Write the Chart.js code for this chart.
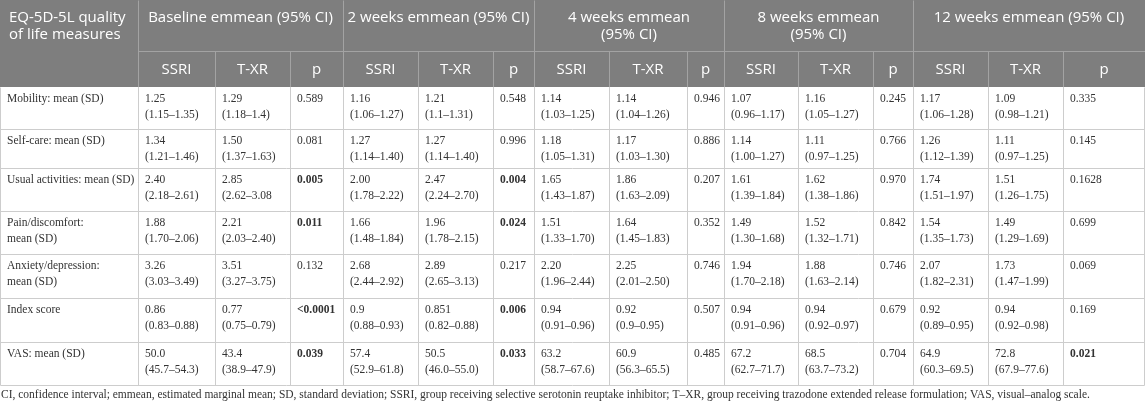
<!DOCTYPE html>
<html>
<head>
<meta charset="utf-8">
<script src="https://cdn.jsdelivr.net/npm/chart.js@4.4.1/dist/chart.umd.min.js"></script>
<style>
  html, body { margin: 0; padding: 0; background: #fff; }
  #wrap { width: 1145px; height: 402px; }
</style>
</head>
<body>
<div id="wrap"><canvas id="tabla"></canvas></div>
<script>
// datos de la tabla
const measures = [
  'Mobility: mean (SD)',
  'Self-care: mean (SD)',
  'Usual activities: mean (SD)',
  'Pain/discomfort:\nmean (SD)',
  'Anxiety/depression:\nmean (SD)',
  'Index score',
  'VAS: mean (SD)'
];
const firstHeader = 'EQ-5D-5L quality\nof life measures';
const timepoints = [
  'Baseline emmean (95% CI)',
  '2 weeks emmean (95% CI)',
  '4 weeks emmean\n(95% CI)',
  '8 weeks emmean\n(95% CI)',
  '12 weeks emmean (95% CI)'
];
const groups = ['SSRI', 'T-XR', 'p'];

const baselineSsri = ['1.25\n(1.15–1.35)', '1.34\n(1.21–1.46)', '2.40\n(2.18–2.61)', '1.88\n(1.70–2.06)', '3.26\n(3.03–3.49)', '0.86\n(0.83–0.88)', '50.0\n(45.7–54.3)'];
const baselineTxr  = ['1.29\n(1.18–1.4)', '1.50\n(1.37–1.63)', '2.85\n(2.62–3.08', '2.21\n(2.03–2.40)', '3.51\n(3.27–3.75)', '0.77\n(0.75–0.79)', '43.4\n(38.9–47.9)'];
const baselineP    = ['0.589', '0.081', '0.005', '0.011', '0.132', '<0.0001', '0.039'];

const week2Ssri = ['1.16\n(1.06–1.27)', '1.27\n(1.14–1.40)', '2.00\n(1.78–2.22)', '1.66\n(1.48–1.84)', '2.68\n(2.44–2.92)', '0.9\n(0.88–0.93)', '57.4\n(52.9–61.8)'];
const week2Txr  = ['1.21\n(1.1–1.31)', '1.27\n(1.14–1.40)', '2.47\n(2.24–2.70)', '1.96\n(1.78–2.15)', '2.89\n(2.65–3.13)', '0.851\n(0.82–0.88)', '50.5\n(46.0–55.0)'];
const week2P    = ['0.548', '0.996', '0.004', '0.024', '0.217', '0.006', '0.033'];

const week4Ssri = ['1.14\n(1.03–1.25)', '1.18\n(1.05–1.31)', '1.65\n(1.43–1.87)', '1.51\n(1.33–1.70)', '2.20\n(1.96–2.44)', '0.94\n(0.91–0.96)', '63.2\n(58.7–67.6)'];
const week4Txr  = ['1.14\n(1.04–1.26)', '1.17\n(1.03–1.30)', '1.86\n(1.63–2.09)', '1.64\n(1.45–1.83)', '2.25\n(2.01–2.50)', '0.92\n(0.9–0.95)', '60.9\n(56.3–65.5)'];
const week4P    = ['0.946', '0.886', '0.207', '0.352', '0.746', '0.507', '0.485'];

const week8Ssri = ['1.07\n(0.96–1.17)', '1.14\n(1.00–1.27)', '1.61\n(1.39–1.84)', '1.49\n(1.30–1.68)', '1.94\n(1.70–2.18)', '0.94\n(0.91–0.96)', '67.2\n(62.7–71.7)'];
const week8Txr  = ['1.16\n(1.05–1.27)', '1.11\n(0.97–1.25)', '1.62\n(1.38–1.86)', '1.52\n(1.32–1.71)', '1.88\n(1.63–2.14)', '0.94\n(0.92–0.97)', '68.5\n(63.7–73.2)'];
const week8P    = ['0.245', '0.766', '0.970', '0.842', '0.746', '0.679', '0.704'];

const week12Ssri = ['1.17\n(1.06–1.28)', '1.26\n(1.12–1.39)', '1.74\n(1.51–1.97)', '1.54\n(1.35–1.73)', '2.07\n(1.82–2.31)', '0.92\n(0.89–0.95)', '64.9\n(60.3–69.5)'];
const week12Txr  = ['1.09\n(0.98–1.21)', '1.11\n(0.97–1.25)', '1.51\n(1.26–1.75)', '1.49\n(1.29–1.69)', '1.73\n(1.47–1.99)', '0.94\n(0.92–0.98)', '72.8\n(67.9–77.6)'];
const week12P    = ['0.335', '0.145', '0.1628', '0.699', '0.069', '0.169', '0.021'];

const footnote = 'CI, confidence interval; emmean, estimated marginal mean; SD, standard deviation; SSRI, group receiving selective serotonin reuptake inhibitor; T–XR, group receiving trazodone extended release formulation; VAS, visual–analog scale.';

// geometría (en unidades de las escalas, que equivalen a píxeles)
const colEdges = [0, 138, 215, 290, 343, 418, 493, 534, 609, 687, 724, 798, 873, 913, 988, 1063, 1145];
const rowEdges = [0, 51, 87, 129, 168, 211, 254, 298, 342, 385];

const headerFont = '15px "Open Sans"';
const bodyFont = '11.5px "Liberation Serif"';
const boldFont = 'bold 11.5px "Liberation Serif"';
const footFont = '11.5px "Liberation Serif"';

// una columna por dataset: texto de cada celda
const columnTexts = [
  measures,
  baselineSsri, baselineTxr, baselineP,
  week2Ssri, week2Txr, week2P,
  week4Ssri, week4Txr, week4P,
  week8Ssri, week8Txr, week8P,
  week12Ssri, week12Txr, week12P
];

const esSignificativo = (t) => parseFloat(t.replace('<', '')) < 0.05;

const datasets = columnTexts.map((texts, c) => ({
  label: c === 0 ? 'measure' : groups[(c - 1) % 3],
  cells: texts,
  isP: c > 0 && (c - 1) % 3 === 2,
  data: texts.map((_, r) => ({ x: colEdges[c], y: rowEdges[r + 2] })),
  pointRadius: 0,
  pointHoverRadius: 0
}));

const tablePlugin = {
  id: 'tabla',
  afterDraw(chart) {
    const { ctx, scales: { x, y } } = chart;
    const X = (v) => x.getPixelForValue(v);
    const Y = (v) => y.getPixelForValue(v);
    const W = colEdges[colEdges.length - 1];
    const bodyTop = rowEdges[2];
    const bodyBottom = rowEdges[rowEdges.length - 1];

    ctx.save();

    // cabecera gris
    ctx.fillStyle = '#7e7e7e';
    ctx.fillRect(X(0), Y(0), X(W) - X(0), Y(bodyTop) - Y(0));

    ctx.strokeStyle = '#a3a3a3';
    ctx.lineWidth = 1;
    const line = (x1, y1, x2, y2) => {
      ctx.beginPath();
      ctx.moveTo(Math.round(X(x1)) + 0.5, Math.round(Y(y1)) + 0.5);
      ctx.lineTo(Math.round(X(x2)) + 0.5, Math.round(Y(y2)) + 0.5);
      ctx.stroke();
    };
    line(colEdges[1], rowEdges[1], W, rowEdges[1]);
    colEdges.slice(1, -1).forEach((cx, i) => {
      const c = i + 1;
      const top = (c - 1) % 3 === 0 ? 0 : rowEdges[1];
      line(cx, top, cx, bodyTop);
    });

    // rejilla del cuerpo
    ctx.strokeStyle = '#cdcdcd';
    rowEdges.slice(3).forEach((ry) => line(0, ry, W - 1, ry));
    colEdges.forEach((cx) => line(Math.min(cx, W - 1), bodyTop, Math.min(cx, W - 1), bodyBottom));

    // textos de cabecera
    ctx.fillStyle = '#ffffff';
    ctx.font = headerFont;
    ctx.textBaseline = 'middle';
    ctx.textAlign = 'left';
    firstHeader.split('\n').forEach((t, k) => ctx.fillText(t, X(9), Y(18 + k * 17)));
    ctx.textAlign = 'center';
    timepoints.forEach((t, g) => {
      const cx = (X(colEdges[1 + g * 3]) + X(colEdges[4 + g * 3])) / 2;
      t.split('\n').forEach((s, k) => ctx.fillText(s, cx, Y(18 + k * 17)));
    });
    for (let c = 1; c < colEdges.length - 1; c++) {
      const cx = (X(colEdges[c]) + X(colEdges[c + 1])) / 2;
      ctx.fillText(groups[(c - 1) % 3], cx, Y(70));
    }

    // celdas del cuerpo, ancladas a los puntos de cada dataset
    ctx.fillStyle = '#333333';
    ctx.textAlign = 'left';
    chart.data.datasets.forEach((ds, i) => {
      const meta = chart.getDatasetMeta(i);
      meta.data.forEach((pt, r) => {
        const txt = ds.cells[r];
        ctx.font = ds.isP && esSignificativo(txt) ? boldFont : bodyFont;
        txt.split('\n').forEach((s, k) => ctx.fillText(s, pt.x + 7, pt.y + 12 + k * 16));
      });
    });

    // nota al pie
    ctx.font = footFont;
    ctx.fillText(footnote, X(1), Y(395));

    ctx.restore();
  }
};

new Chart(document.getElementById('tabla'), {
  type: 'scatter',
  data: { datasets },
  options: {
    responsive: true,
    maintainAspectRatio: false,
    animation: false,
    events: [],
    layout: { padding: 0 },
    plugins: {
      legend: { display: false },
      tooltip: { enabled: false }
    },
    scales: {
      x: { type: 'linear', display: false, min: 0, max: 1145 },
      y: { type: 'linear', display: false, min: 0, max: 402, reverse: true }
    }
  },
  plugins: [tablePlugin]
});
</script>
</body>
</html>
